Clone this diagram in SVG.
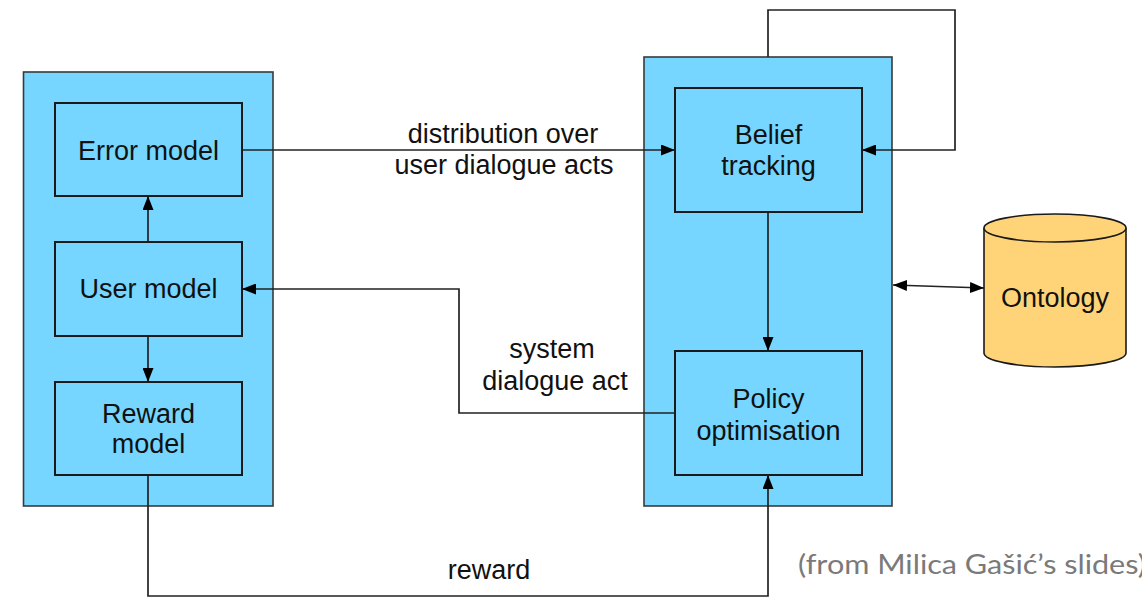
<svg xmlns="http://www.w3.org/2000/svg" width="1142" height="598" viewBox="0 0 1142 598">
<style>
.panel{fill:#76D6FF;stroke:#3a3a3a;stroke-width:1.6}
.box{fill:#76D6FF;stroke:#1a1a1a;stroke-width:2}
.lbl{font-family:"Liberation Sans",Arial,Helvetica,sans-serif;font-size:27px;fill:#111;text-anchor:middle}
.conn{fill:none;stroke:#222;stroke-width:1.7}
</style>
<defs>
<marker id="ah" viewBox="0 0 14 11" refX="14" refY="5.5" markerWidth="14" markerHeight="11" markerUnits="userSpaceOnUse" orient="auto">
<path d="M0,0 L14,5.5 L0,11 Z" fill="#000"/>
</marker>
<marker id="as" viewBox="0 0 14 11" refX="0" refY="5.5" markerWidth="14" markerHeight="11" markerUnits="userSpaceOnUse" orient="auto">
<path d="M14,0 L0,5.5 L14,11 Z" fill="#000"/>
</marker>
</defs>
<rect width="1142" height="598" fill="#fff"/>

<g id="user-simulator">
<rect class="panel" x="23.5" y="72" width="249.5" height="434"/>
</g>
<g id="dialogue-manager">
<rect class="panel" x="644" y="57" width="248" height="449"/>
</g>

<g id="connectors">
<path class="conn" d="M242,150 H675" marker-end="url(#ah)"/>
<path class="conn" d="M148,242 V196" marker-end="url(#ah)"/>
<path class="conn" d="M148,336 V382" marker-end="url(#ah)"/>
<path class="conn" d="M675,413 H459 V289 H242" marker-end="url(#ah)"/>
<path class="conn" d="M768,57 V10 H955 V150 H862" marker-end="url(#ah)"/>
<path class="conn" d="M768,212 V351" marker-end="url(#ah)"/>
<path class="conn" d="M148,475 V596 H768 V475" marker-end="url(#ah)"/>
<path class="conn" d="M893,285 L984,288" marker-start="url(#as)" marker-end="url(#ah)"/>
<text class="lbl" x="503" y="143">distribution over</text>
<text class="lbl" x="504" y="174">user dialogue acts</text>
<text class="lbl" x="552" y="358">system</text>
<text class="lbl" x="555" y="390">dialogue act</text>
<text class="lbl" x="489" y="579">reward</text>
</g>

<g id="error-model">
<rect class="box" x="55" y="103" width="187" height="93"/>
<text class="lbl" x="148.5" y="160">Error model</text>
</g>
<g id="user-model">
<rect class="box" x="55" y="242" width="187" height="94"/>
<text class="lbl" x="148.5" y="298">User model</text>
</g>
<g id="reward-model">
<rect class="box" x="55" y="382" width="187" height="93"/>
<text class="lbl" x="148.5" y="423">Reward</text>
<text class="lbl" x="148.5" y="453">model</text>
</g>
<g id="belief-tracking">
<rect class="box" x="675" y="88" width="187" height="124"/>
<text class="lbl" x="768.5" y="144">Belief</text>
<text class="lbl" x="768.5" y="175">tracking</text>
</g>
<g id="policy-optimisation">
<rect class="box" x="675" y="351" width="187" height="124"/>
<text class="lbl" x="768.5" y="408">Policy</text>
<text class="lbl" x="768.5" y="440">optimisation</text>
</g>
<g id="ontology">
<path d="M984,228 V353 A71,14 0 0 0 1126,353 V228" fill="#FFD479" stroke="#1a1a1a" stroke-width="1.6"/>
<ellipse cx="1055" cy="228" rx="71" ry="14" fill="#FFD479" stroke="#1a1a1a" stroke-width="1.6"/>
<text class="lbl" x="1055" y="307">Ontology</text>
</g>

<text x="798" y="574" font-family="Lato,'Open Sans',sans-serif" font-size="27" fill="#7a7a7a" textLength="348" lengthAdjust="spacingAndGlyphs">(from Milica Gašić’s slides)</text>
</svg>
